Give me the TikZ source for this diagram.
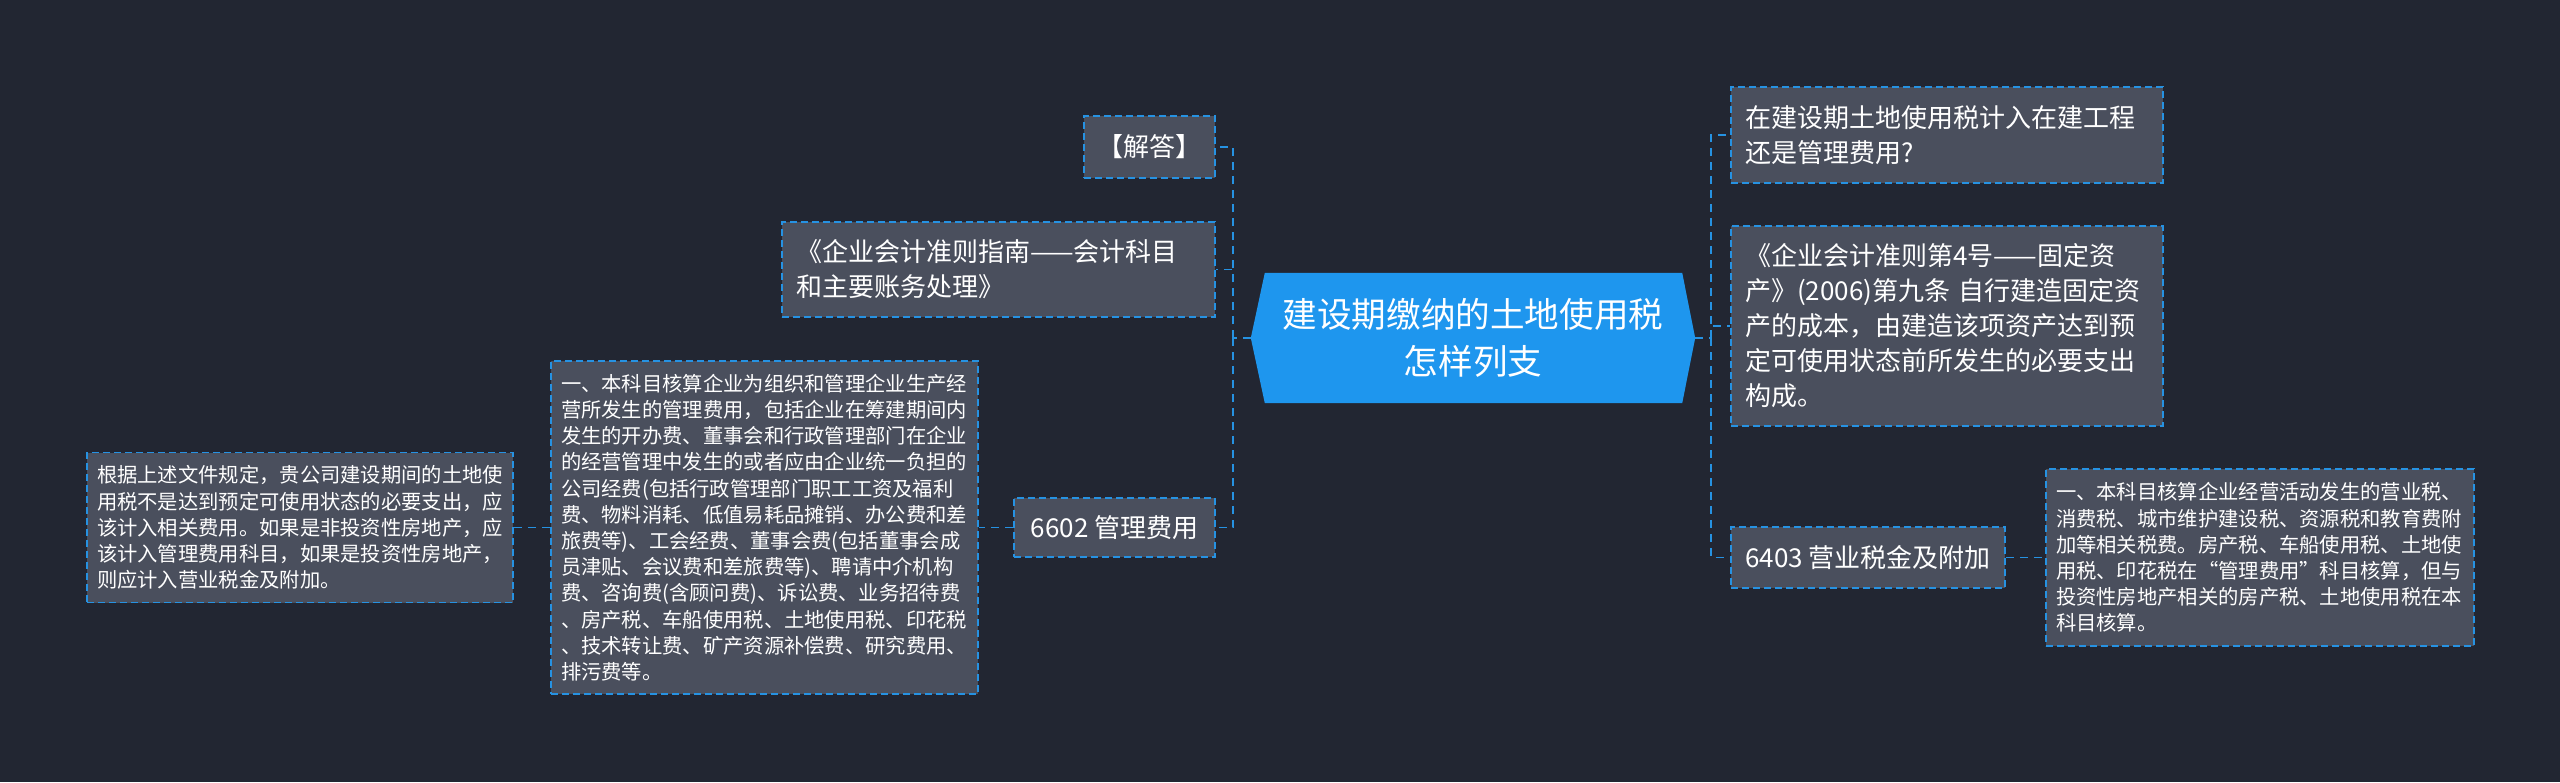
\documentclass[tikz,border=0pt]{standalone}
\usepackage{fontspec}
\setmainfont{Noto Sans CJK SC}
\usetikzlibrary{arrows}
\pgfdeclarelayer{background}
\pgfsetlayers{background,main}
\definecolor{bgdark}{RGB}{34,38,50}
\definecolor{boxgray}{RGB}{74,79,93}
\definecolor{linkblue}{RGB}{38,146,226}
\definecolor{rootblue}{RGB}{30,150,238}
\tikzset{
  leaf/.style={draw=linkblue, line width=1.8pt, dash pattern=on 7pt off 4pt, fill=boxgray, text=white, align=left, inner sep=0pt},
  roottext/.style={text=white, align=center, inner sep=0pt, font=\fontsize{34.6}{47}\selectfont},
  link/.style={draw=linkblue, line width=1.8pt, dash pattern=on 8pt off 6pt},
  midfont/.style={font=\fontsize{26}{35}\selectfont},
  smallfont/.style={font=\fontsize{20.3}{26.2}\selectfont},
}

\begin{document}
\begin{tikzpicture}[x=1pt,y=-1pt]
\useasboundingbox (0,0) rectangle (2560,782);

\node[roottext,minimum width=444pt,minimum height=130pt] (root) at (1473,338) {建设期缴纳的土地使用税\\怎样列支};

\node[leaf,midfont,align=center,minimum width=131pt,minimum height=62pt] (jieda) at (1149.5,147) {【解答】};
\node[leaf,midfont,minimum width=433pt,minimum height=95pt,text width=405pt] (zhinan) at (998.5,269.5) {《企业会计准则指南——会计科目\\和主要账务处理》};
\node[leaf,midfont,align=center,minimum width=201pt,minimum height=59pt] (glfy) at (1114.5,527.5) {6602 管理费用};
\node[leaf,smallfont,minimum width=427pt,minimum height=333pt,text width=407pt] (glfytxt) at (764.5,527.5) {一、本科目核算企业为组织和管理企业生产经\\营所发生的管理费用，包括企业在筹建期间内\\发生的开办费、董事会和行政管理部门在企业\\的经营管理中发生的或者应由企业统一负担的\\公司经费(包括行政管理部门职工工资及福利\\费、物料消耗、低值易耗品摊销、办公费和差\\旅费等)、工会经费、董事会费(包括董事会成\\员津贴、会议费和差旅费等)、聘请中介机构\\费、咨询费(含顾问费)、诉讼费、业务招待费\\、房产税、车船使用税、土地使用税、印花税\\、技术转让费、矿产资源补偿费、研究费用、\\排污费等。};
\node[leaf,smallfont,minimum width=426pt,minimum height=150pt,text width=406pt] (jielun) at (300,527.5) {根据上述文件规定，贵公司建设期间的土地使\\用税不是达到预定可使用状态的必要支出，应\\该计入相关费用。如果是非投资性房地产，应\\该计入管理费用科目，如果是投资性房地产，\\则应计入营业税金及附加。};

\node[leaf,midfont,minimum width=432pt,minimum height=96pt,text width=404pt] (wenti) at (1947,135) {在建设期土地使用税计入在建工程\\还是管理费用?};
\node[leaf,midfont,minimum width=432pt,minimum height=200pt,text width=404pt] (zhunze) at (1947,326) {《企业会计准则第4号——固定资\\产》(2006)第九条 自行建造固定资\\产的成本，由建造该项资产达到预\\定可使用状态前所发生的必要支出\\构成。};
\node[leaf,midfont,align=center,minimum width=274pt,minimum height=61pt] (yysj) at (1868,557.5) {6403 营业税金及附加};
\node[leaf,smallfont,minimum width=428pt,minimum height=177pt,text width=408pt] (yystxt) at (2260,557.5) {一、本科目核算企业经营活动发生的营业税、\\消费税、城市维护建设税、资源税和教育费附\\加等相关税费。房产税、车船使用税、土地使\\用税、印花税在“管理费用”科目核算，但与\\投资性房地产相关的房产税、土地使用税在本\\科目核算。};

\coordinate (lhub) at (1233,338);
\coordinate (rhub) at (1711,338);
\draw[link] (root.west) -- (lhub);
\draw[link] (lhub) |- (jieda.east);
\draw[link] (lhub) |- (zhinan.east);
\draw[link] (lhub) |- (glfy.east);
\draw[link] (glfy.west) -- (glfytxt.east);
\draw[link] (glfytxt.west) -- (jielun.east);
\draw[link] (root.east) -- (rhub);
\draw[link] (rhub) |- (wenti.west);
\draw[link] (rhub) |- (zhunze.west);
\draw[link] (rhub) |- (yysj.west);
\draw[link] (yysj.east) -- (yystxt.west);

\begin{pgfonlayer}{background}
\fill[bgdark] (0,0) rectangle (2560,782);
\fill[rootblue] (root.west) -- ([xshift=14pt]root.north west) -- ([xshift=-13pt]root.north east) -- (root.east) -- ([xshift=-13pt]root.south east) -- ([xshift=14pt]root.south west) -- cycle;
\end{pgfonlayer}
\end{tikzpicture}
\end{document}
